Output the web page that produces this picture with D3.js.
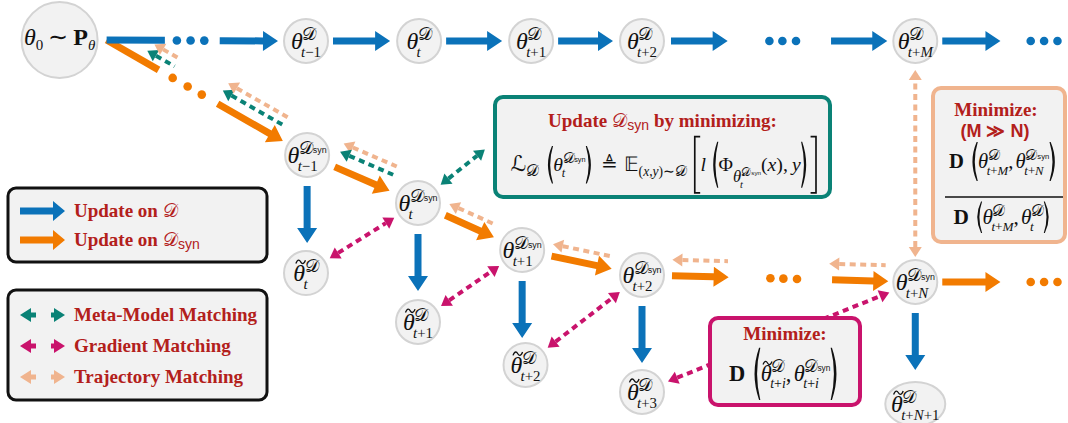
<!DOCTYPE html>
<html>
<head>
<meta charset="utf-8">
<script src="https://cdnjs.cloudflare.com/ajax/libs/d3/7.8.5/d3.min.js"></script>
<style>
  html, body { margin: 0; padding: 0; background: #fff; }
  svg { display: block; }
</style>
</head>
<body>
<div id="chart"></div>
<script>
// Dataset-distillation matching diagram, drawn with D3.

const W = 1068, H = 423;

// ---- data: node layout in (column, level) units ----
const originCol = -2.2, originLevel = -0.004;
const topSubs = ['t−1', 't', 't+1', 't+2', 't+M'];
const topCols = [0, 1.01, 2.01, 3, 5.44];
const synSubs = ['t−1', 't', 't+1', 't+2', 't+N'];
const synCols = [0.01, 1, 1.93, 3, 5.44];
const synLevels = [0.473, 0.672, 0.867, 0.971, 1];
const tildeSubs = ['t', 't+1', 't+2', 't+3', 't+N+1'];
const tildeCols = [0, 1, 1.96, 3, 5.44];
const tildeLevels = [0.963, 1.166, 1.344, 1.456, 1.506];
const tailCol = 6.72;

// legend entries
const updateLegend = ['Update on 𝒟', 'Update on 𝒟_syn'];
const matchLegend = ['Meta-Model Matching', 'Gradient Matching', 'Trajectory Matching'];

const C = {
  blue: '#0b72b9', orange: '#f27b00', teal: '#0a8276', magenta: '#c9136c',
  peach: '#f0b48e', red: '#b3201b', nodeFill: '#f2f2f2', nodeStroke: '#d3d3d3', ink: '#111'
};
const CAL_D = '\u{1D49F}', SCR_L = '\u2112', BB_E = '\u{1D53C}';

const FONT = {
  it: ['Liberation Serif', 'italic', 'normal'],
  rm: ['Liberation Serif', 'normal', 'normal'],
  bf: ['Liberation Serif', 'normal', 'bold'],
  sf: ['Liberation Sans', 'normal', 'normal'],
  sfb: ['Liberation Sans', 'normal', 'bold'],
  cal: ['DejaVu Sans', 'normal', 'normal']
};

const x = d3.scaleLinear().domain([0, 1]).range([306, 418]);
const y = d3.scaleLinear().domain([0, 1]).range([41, 282]);

const svg = d3.select('#chart').append('svg')
  .attr('width', W).attr('height', H).attr('viewBox', `0 0 ${W} ${H}`);
svg.append('rect').attr('width', W).attr('height', H).attr('fill', '#fff');

const origin = { x: x(originCol), y: y(originLevel), r: 38 };
const topNodes = topSubs.map((s, i) => ({ x: x(topCols[i]), y: y(0), r: 22, sub: s }));
const synNodes = synSubs.map((s, i) => ({ x: x(synCols[i]), y: y(synLevels[i]), r: 22, sub: s }));
const tildeNodes = tildeSubs.map((s, i) => ({
  x: x(tildeCols[i]), y: y(tildeLevels[i]), r: 22, rx: i === 4 ? 30 : 22, sub: s
}));

// ---- geometry helpers ----
function along(a, b, s, d = 0) {
  const dx = b.x - a.x, dy = b.y - a.y, L = Math.hypot(dx, dy);
  const ux = dx / L, uy = dy / L;
  return { x: a.x + ux * s + uy * d, y: a.y + uy * s - ux * d };
}
const dist = (a, b) => Math.hypot(b.x - a.x, b.y - a.y);

function polyArrow(g, p0, p1, color, o = {}) {
  const w = o.w ?? 7, hl = o.hl ?? 15, hw = o.hw ?? 20;
  const dx = p1.x - p0.x, dy = p1.y - p0.y, L = Math.hypot(dx, dy);
  const ux = dx / L, uy = dy / L, nx = -uy, ny = ux;
  const bx = p1.x - ux * hl, by = p1.y - uy * hl;
  const pts = [
    [p0.x + nx * w / 2, p0.y + ny * w / 2], [bx + nx * w / 2, by + ny * w / 2],
    [bx + nx * hw / 2, by + ny * hw / 2], [p1.x, p1.y],
    [bx - nx * hw / 2, by - ny * hw / 2], [bx - nx * w / 2, by - ny * w / 2],
    [p0.x - nx * w / 2, p0.y - ny * w / 2]
  ];
  g.append('polygon').attr('points', pts.map(p => p.join(',')).join(' ')).attr('fill', color);
}

function dashArrow(g, p0, p1, color, heads = 'start', o = {}) {
  const hl = o.hl ?? 10, hw = o.hw ?? 13, sw = o.sw ?? 4;
  const dx = p1.x - p0.x, dy = p1.y - p0.y, L = Math.hypot(dx, dy);
  const ux = dx / L, uy = dy / L, nx = -uy, ny = ux;
  const a = heads !== 'end' ? { x: p0.x + ux * hl, y: p0.y + uy * hl } : p0;
  const b = heads !== 'start' ? { x: p1.x - ux * hl, y: p1.y - uy * hl } : p1;
  g.append('line').attr('x1', a.x).attr('y1', a.y).attr('x2', b.x).attr('y2', b.y)
    .attr('stroke', color).attr('stroke-width', sw).attr('stroke-dasharray', o.dash ?? '6 4.5');
  const tri = (tip, base) => g.append('polygon')
    .attr('points', [[tip.x, tip.y], [base.x + nx * hw / 2, base.y + ny * hw / 2],
      [base.x - nx * hw / 2, base.y - ny * hw / 2]].map(p => p.join(',')).join(' '))
    .attr('fill', color);
  if (heads !== 'end') tri(p0, a);
  if (heads !== 'start') tri(p1, b);
}

function chain(g, p0, p1, segs, color) {
  const at = t => ({ x: p0.x + (p1.x - p0.x) * t, y: p0.y + (p1.y - p0.y) * t });
  segs.forEach(sg => {
    if (sg.type === 'line') {
      const a = at(sg.from), b = at(sg.to);
      g.append('line').attr('x1', a.x).attr('y1', a.y).attr('x2', b.x).attr('y2', b.y)
        .attr('stroke', color).attr('stroke-width', 7);
    } else if (sg.type === 'arrow') {
      polyArrow(g, at(sg.from), at(sg.to), color);
    } else {
      sg.at.forEach(t => {
        const p = at(t);
        g.append('circle').attr('cx', p.x).attr('cy', p.y).attr('r', 4.3).attr('fill', color);
      });
    }
  });
  return at;
}

// ---- tiny math typesetter ----
function fence(g, kind, x0, c, h, w) {
  const top = c - h / 2, bot = c + h / 2;
  const X = f => (kind === '(' || kind === '[') ? x0 + f * w : x0 + w - f * w;
  if (kind === '(' || kind === ')') {
    g.append('path')
      .attr('d', `M${X(0.85)},${top} Q${X(0)},${c} ${X(0.85)},${bot} L${X(0.97)},${bot} Q${X(0.36)},${c} ${X(0.97)},${top} Z`)
      .attr('fill', C.ink);
  } else {
    g.append('path')
      .attr('d', `M${X(0.95)},${top} H${X(0.3)} V${bot} H${X(0.95)}`)
      .attr('fill', 'none').attr('stroke', C.ink).attr('stroke-width', 1.6);
  }
}

function typeset(g, items, x0, y0) {
  let cx = x0;
  items.forEach(it => {
    const yy = y0 + (it.dy || 0);
    if (it.t !== undefined) {
      const [fam, sty, wt] = FONT[it.f || 'rm'];
      const el = g.append('text').attr('x', cx).attr('y', yy)
        .style('font-family', `"${fam}"`).style('font-style', sty).style('font-weight', wt)
        .style('font-size', it.s + 'px').text(it.t);
      const w = el.node().getComputedTextLength();
      if (it.tilde) {
        // tilde accent drawn as a little wave
        const tx = cx + w * 0.62, ty = yy - it.s * 0.8, a = it.s * 0.2, h = it.s * 0.07;
        g.append('path')
          .attr('d', `M${tx - a},${ty + h} C${tx - a * 0.6},${ty - h * 2} ${tx - a * 0.2},${ty - h} ${tx},${ty} S${tx + a * 0.6},${ty + h * 2} ${tx + a},${ty - h}`)
          .attr('fill', 'none').attr('stroke', C.ink).attr('stroke-width', it.s * 0.055);
      }
      cx += w + (it.k || 0);
    } else if (it.stack) {
      const ws = it.stack.map(s => typeset(g, s.items, cx + (s.dx || 0), yy + s.dy) + (s.dx || 0));
      cx += Math.max(...ws) + (it.k || 0);
    } else if (it.seq) {
      cx += typeset(g, it.seq, cx, yy) + (it.k || 0);
    } else if (it.fence) {
      fence(g, it.fence, cx, yy - (it.ax ?? 6), it.h, it.w);
      cx += it.w;
    } else if (it.sp) {
      cx += it.sp;
    }
  });
  return cx - x0;
}

function typesetAt(parent, items, cx, baseY, opts = {}) {
  const g = parent.append('g').attr('fill', opts.color || C.ink);
  const w = typeset(g, items, 0, 0);
  const k = opts.width ? opts.width / w : 1;
  const left = opts.anchor === 'start' ? cx : cx - w * k / 2;
  g.attr('transform', `translate(${left},${baseY}) scale(${k})`);
  return g;
}

function subItems(str, s) {
  return str.split('').map(ch => ({ t: ch, f: /[A-Za-z]/.test(ch) ? 'it' : 'rm', s }));
}

function thetaItems(sub, { syn = false, tilde = false, s = 24 } = {}) {
  const sup = [{ t: CAL_D, f: 'cal', s: s * 0.74 }];
  if (syn) sup.push({ t: 'syn', f: 'sf', s: s * 0.37, dy: -1, k: 0 });
  const stack = [{ dy: -s * 0.38, dx: -s * 0.02, items: sup }];
  if (sub) stack.push({ dy: s * 0.32, dx: -s * 0.07, items: subItems(sub, s * 0.62) });
  return [{ t: 'θ', f: 'it', s, tilde, k: 0 }, { stack }];
}

// ---- layers ----
const gLinks = svg.append('g');
const gNodes = svg.append('g');
const gBoxes = svg.append('g');

// orange lead chain (under the blue one)
const leadStart = { x: origin.x + origin.r + 9, y: origin.y };
const orangeLeadEnd = along(leadStart, synNodes[0], dist(leadStart, synNodes[0]) - 28);
chain(gLinks, leadStart, orangeLeadEnd, [
  { type: 'line', from: 0, to: 0.295 },
  { type: 'dots', at: [0.375, 0.46, 0.54] },
  { type: 'arrow', from: 0.63, to: 1 }
], C.orange);

// matching arrows along the orange lead chain
const leadLen = dist(leadStart, orangeLeadEnd);
[[0.2, 0.355, 11, C.teal], [0.215, 0.35, 20, C.peach], [0.62, 0.975, 14, C.teal], [0.625, 0.975, 23, C.peach]]
  .forEach(([a, b, d, col]) => {
    dashArrow(gLinks, along(leadStart, orangeLeadEnd, a * leadLen, d),
      along(leadStart, orangeLeadEnd, b * leadLen, d), col, 'start');
  });

// blue top row
chain(gLinks, leadStart, { x: topNodes[0].x - topNodes[0].r - 6, y: topNodes[0].y }, [
  { type: 'line', from: 0, to: 0.34 },
  { type: 'dots', at: [0.41, 0.49, 0.57] },
  { type: 'arrow', from: 0.66, to: 1 }
], C.blue);
for (let i = 0; i < 3; i++) {
  const A = topNodes[i], B = topNodes[i + 1];
  polyArrow(gLinks, along(A, B, A.r + 5), along(A, B, dist(A, B) - B.r - 7), C.blue);
}
const midPattern = [
  { type: 'arrow', from: 0, to: 0.262 },
  { type: 'dots', at: [0.455, 0.515, 0.578] },
  { type: 'arrow', from: 0.74, to: 1 }
];
const tailPattern = [
  { type: 'arrow', from: 0, to: 0.5 },
  { type: 'dots', at: [0.76, 0.875, 0.99] }
];
chain(gLinks, { x: topNodes[3].x + 29, y: topNodes[3].y }, { x: topNodes[4].x - 28, y: topNodes[4].y }, midPattern, C.blue);
chain(gLinks, { x: topNodes[4].x + 27, y: topNodes[4].y }, { x: x(tailCol), y: topNodes[4].y }, tailPattern, C.blue);

// orange syn row
for (let i = 0; i < 3; i++) {
  const A = synNodes[i], B = synNodes[i + 1];
  polyArrow(gLinks, along(A, B, A.r + 8), along(A, B, dist(A, B) - B.r - 9), C.orange);
}
const s3 = synNodes[3], s4 = synNodes[4];
const midStart = along(s3, s4, s3.r + 8), midEnd = along(s3, s4, dist(s3, s4) - s4.r - 5);
chain(gLinks, midStart, midEnd, midPattern, C.orange);
chain(gLinks, { x: s4.x + 27, y: s4.y }, { x: x(tailCol), y: s4.y }, tailPattern, C.orange);

// blue syn -> tilde
synNodes.forEach(n => {
  polyArrow(gLinks, { x: n.x, y: n.y + n.r + 9 }, { x: n.x, y: n.y + n.r + 66 }, C.blue);
});

// trajectory + meta-model arrows along syn row
const synMatch = [[0, 25, C.peach], [0, 16, C.teal], [1, 12, C.peach], [2, 12, C.peach]];
synMatch.forEach(([i, d, col]) => {
  const A = synNodes[i], B = synNodes[i + 1];
  dashArrow(gLinks, along(A, B, A.r + 7, d), along(A, B, dist(A, B) - B.r - 12, d), col, 'start');
});
const midLen = dist(midStart, midEnd);
[[0, 0.257], [0.725, 0.986]].forEach(([a, b]) => {
  dashArrow(gLinks, along(midStart, midEnd, a * midLen, 16), along(midStart, midEnd, b * midLen, 16), C.peach, 'start');
});

// gradient matching tilde_i <-> syn_{i+1}
for (let i = 0; i < 4; i++) {
  const A = tildeNodes[i], B = synNodes[i + 1];
  dashArrow(gLinks, along(A, B, A.r + 6), along(A, B, dist(A, B) - B.r - 6), C.magenta, 'both');
}

// trajectory vertical
dashArrow(gLinks, { x: s4.x, y: s4.y - s4.r - 3 }, { x: topNodes[4].x, y: topNodes[4].y + topNodes[4].r + 7 }, C.peach, 'both');

// ---- panels ----
const tealBox = { x0: 495, x1: 830, y0: 97, y1: 197 };
const peachBox = { x0: 933, x1: 1065, y0: 88, y1: 242 };
const magBox = { x0: 710, x1: 860, y0: 318, y1: 405 };

// meta-model link to the teal panel
{
  const T = { x: tealBox.x0 - 7, y: (tealBox.y0 + tealBox.y1) / 2 };
  const A = synNodes[1];
  dashArrow(gLinks, along(A, T, A.r + 7), along(A, T, dist(A, T) - 4), C.teal, 'both');
}

// ---- nodes ----
function nodeShape(n) {
  gNodes.append('ellipse').attr('cx', n.x).attr('cy', n.y).attr('rx', n.rx || n.r).attr('ry', n.r)
    .attr('fill', C.nodeFill).attr('stroke', C.nodeStroke).attr('stroke-width', 2);
}
nodeShape(origin);
typesetAt(gNodes, [
  { t: 'θ', f: 'it', s: 24 }, { t: '0', f: 'rm', s: 15, dy: 5 }, { sp: 5 },
  { t: '∼', f: 'rm', s: 24 }, { sp: 5 }, { t: 'P', f: 'bf', s: 24 }, { t: 'θ', f: 'it', s: 15, dy: 5 }
], origin.x, origin.y + 5);

topNodes.forEach(n => { nodeShape(n); typesetAt(gNodes, thetaItems(n.sub), n.x, n.y + 8); });
synNodes.forEach(n => { nodeShape(n); typesetAt(gNodes, thetaItems(n.sub, { syn: true }), n.x, n.y + 8); });
tildeNodes.forEach(n => { nodeShape(n); typesetAt(gNodes, thetaItems(n.sub, { tilde: true }), n.x, n.y + 8); });

// ---- boxes ----
function panel(b, color) {
  gBoxes.append('rect').attr('x', b.x0).attr('y', b.y0).attr('width', b.x1 - b.x0).attr('height', b.y1 - b.y0)
    .attr('rx', 8).attr('fill', C.nodeFill).attr('stroke', color).attr('stroke-width', 4);
}

panel(tealBox, C.teal);
typesetAt(gBoxes, [
  { t: 'Update', f: 'bf', s: 19 }, { sp: 5 }, { t: CAL_D, f: 'cal', s: 19 }, { t: 'syn', f: 'sf', s: 14, dy: 3 },
  { sp: 5 }, { t: 'by minimizing:', f: 'bf', s: 19 }
], (tealBox.x0 + tealBox.x1) / 2, 127, { color: C.red });
const S = 19;
typesetAt(gBoxes, [
  { t: SCR_L, f: 'cal', s: S + 2 }, { t: CAL_D, f: 'cal', s: S * 0.8, dy: 5 }, { sp: 5 },
  { fence: '(', h: 36, w: 9 }, ...thetaItems('t', { syn: true, s: S }), { fence: ')', h: 36, w: 9 },
  { sp: 6 }, { t: '≜', f: 'rm', s: S }, { sp: 6 }, { t: BB_E, f: 'rm', s: S },
  { seq: [{ t: '(', f: 'rm', s: 13 }, { t: 'x', f: 'it', s: 13 }, { t: ',', f: 'rm', s: 13 }, { t: 'y', f: 'it', s: 13 },
    { t: ')', f: 'rm', s: 13 }, { t: '∼', f: 'rm', s: 13 }, { t: CAL_D, f: 'cal', s: 14 }], dy: 5 },
  { sp: 6 }, { fence: '[', h: 54, w: 8 }, { t: 'l', f: 'it', s: S }, { sp: 3 },
  { fence: '(', h: 44, w: 9 }, { t: 'Φ', f: 'rm', s: S },
  { seq: thetaItems('t', { syn: true, s: 16 }), dy: 11 },
  { t: '(', f: 'rm', s: S }, { t: 'x', f: 'it', s: S }, { t: '),', f: 'rm', s: S }, { sp: 4 }, { t: 'y', f: 'it', s: S },
  { fence: ')', h: 44, w: 9 }, { fence: ']', h: 54, w: 8 }
], (tealBox.x0 + tealBox.x1) / 2 + 2, 171, { width: 308 });

panel(peachBox, C.peach);
const pcx = (peachBox.x0 + peachBox.x1) / 2;
typesetAt(gBoxes, [{ t: 'Minimize:', f: 'bf', s: 19 }], pcx - 3, 116, { color: C.red });
typesetAt(gBoxes, [{ t: '(M ≫ N)', f: 'sfb', s: 18 }], pcx - 4, 137, { color: C.red });
typesetAt(gBoxes, [
  { t: 'D', f: 'bf', s: 19 }, { sp: 4 }, { fence: '(', h: 36, w: 9 },
  ...thetaItems('t+M', { s: 19 }), { t: ',', f: 'rm', s: 19 }, { sp: 2 },
  ...thetaItems('t+N', { syn: true, s: 19 }), { fence: ')', h: 36, w: 9 }
], pcx + 5, 168, { width: 110 });
gBoxes.append('line').attr('x1', peachBox.x0 + 12).attr('x2', peachBox.x1 - 2)
  .attr('y1', 197).attr('y2', 197).attr('stroke', C.ink).attr('stroke-width', 1.6);
typesetAt(gBoxes, [
  { t: 'D', f: 'bf', s: 19 }, { sp: 4 }, { fence: '(', h: 28, w: 8 },
  ...thetaItems('t+M', { s: 19 }), { t: ',', f: 'rm', s: 19 }, { sp: 2 },
  ...thetaItems('t', { s: 19 }), { fence: ')', h: 28, w: 8 }
], pcx + 4, 224, { width: 99 });

panel(magBox, C.magenta);
const mcx = (magBox.x0 + magBox.x1) / 2;
typesetAt(gBoxes, [{ t: 'Minimize:', f: 'bf', s: 19 }], mcx, 340, { color: C.red });
typesetAt(gBoxes, [
  { t: 'D', f: 'bf', s: 19 }, { sp: 4 }, { fence: '(', h: 44, w: 9 },
  ...thetaItems('t+i', { tilde: true, s: 19 }), { t: ',', f: 'rm', s: 19 }, { sp: 2 },
  ...thetaItems('t+i', { syn: true, s: 19 }), { fence: ')', h: 44, w: 9 }
], mcx, 381, { width: 112 });

// ---- legends ----
const gLeg = svg.append('g');
function legendBox(y0, y1) {
  gLeg.append('rect').attr('x', 8).attr('y', y0).attr('width', 259).attr('height', y1 - y0)
    .attr('rx', 8).attr('fill', C.nodeFill).attr('stroke', C.ink).attr('stroke-width', 3);
}
legendBox(188, 262);
legendBox(290, 400);

const upY = d3.scalePoint().domain(updateLegend).range([211, 240]);
const upColor = [C.blue, C.orange];
updateLegend.forEach((lab, i) => {
  const yy = upY(lab);
  polyArrow(gLeg, { x: 20, y: yy }, { x: 65, y: yy }, upColor[i], { hl: 12 });
  const [txt, syn] = lab.split('_');
  const base = txt.replace(CAL_D, '').trim();
  const items = [{ t: base, f: 'bf', s: 19 }, { sp: 5 }, { t: CAL_D, f: 'cal', s: 19 }];
  if (syn) items.push({ t: syn, f: 'sf', s: 14, dy: 3 });
  typesetAt(gLeg, items, 74, yy + 6, { color: C.red, anchor: 'start' });
});

const mY = d3.scalePoint().domain(matchLegend).range([315, 377]);
const mColor = [C.teal, C.magenta, C.peach];
matchLegend.forEach((lab, i) => {
  const yy = mY(lab);
  dashArrow(gLeg, { x: 20, y: yy }, { x: 65, y: yy }, mColor[i], 'both', { dash: '5 15 5', hl: 11, hw: 14, sw: 5 });
  typesetAt(gLeg, [{ t: lab, f: 'bf', s: 19 }], 74, yy + 6, { color: C.red, anchor: 'start' });
});
</script>
</body>
</html>
